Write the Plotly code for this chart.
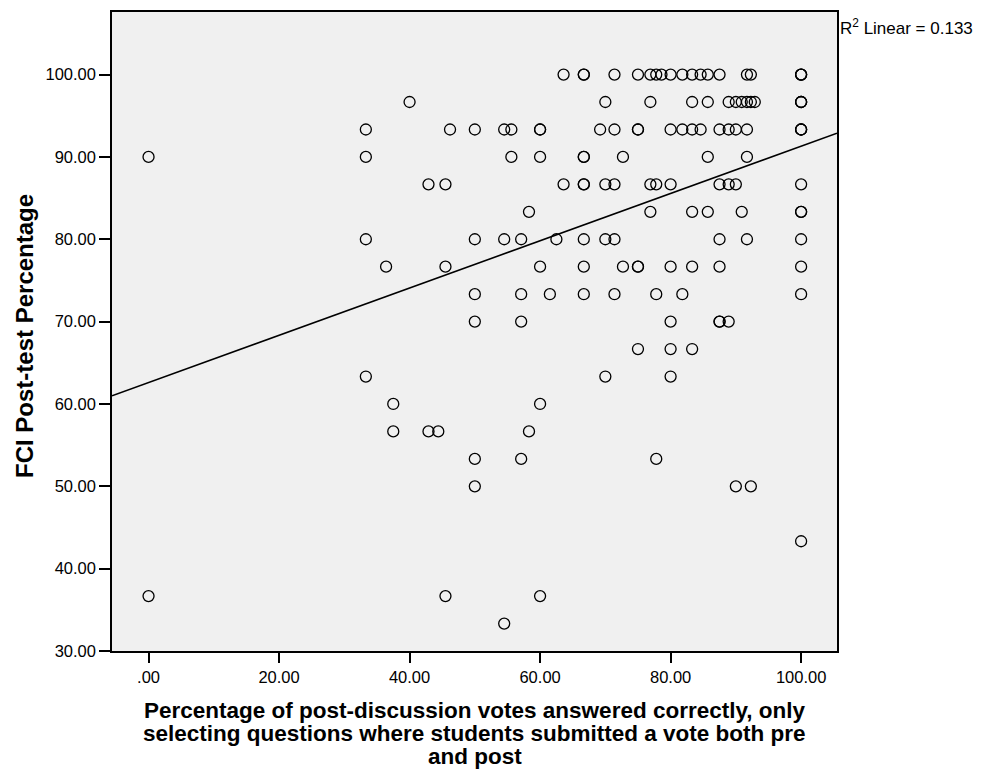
import numpy as np
import plotly.graph_objects as go

# ---- data (x: % post-discussion votes correct, y: FCI post-test %) ----
x_pct = [
    # y = 100
    63.6, 66.7, 66.7, 71.4, 75.0, 76.9, 77.8, 78.6, 80.0, 81.8, 83.3, 84.6, 85.7, 87.5, 91.7, 92.3, 100, 100, 100,
    # y = 96.67
    40.0, 70.0, 76.9, 83.3, 85.7, 88.9, 90.0, 90.9, 91.7, 92.3, 92.9, 100, 100, 100,
    # y = 93.33
    33.3, 46.2, 50.0, 54.5, 55.6, 60.0, 60.0, 69.2, 71.4, 75.0, 75.0, 80.0, 81.8, 83.3, 84.6, 87.5, 88.9, 90.0, 91.7, 100, 100, 100,
    # y = 90
    0.0, 33.3, 55.6, 60.0, 66.7, 66.7, 72.7, 85.7, 91.7,
    # y = 86.67
    42.9, 45.5, 63.6, 66.7, 66.7, 70.0, 71.4, 76.9, 77.8, 80.0, 87.5, 88.9, 90.0, 100,
    # y = 83.33
    58.3, 76.9, 83.3, 85.7, 90.9, 100, 100,
    # y = 80
    33.3, 50.0, 54.5, 57.1, 62.5, 66.7, 70.0, 71.4, 87.5, 91.7, 100,
    # y = 76.67
    36.4, 45.5, 60.0, 66.7, 72.7, 75.0, 75.0, 80.0, 83.3, 87.5, 100,
    # y = 73.33
    50.0, 57.1, 61.5, 66.7, 71.4, 77.8, 81.8, 100,
    # y = 70
    50.0, 57.1, 80.0, 87.5, 87.5, 88.9,
    # y = 66.67
    75.0, 80.0, 83.3,
    # y = 63.33
    33.3, 70.0, 80.0,
    # y = 60
    37.5, 60.0,
    # y = 56.67
    37.5, 42.9, 44.4, 58.3,
    # y = 53.33
    50.0, 57.1, 77.8,
    # y = 50
    50.0, 90.0, 92.3,
    # y = 43.33
    100,
    # y = 36.67
    0.0, 45.5, 60.0,
    # y = 33.33
    54.5,
]
y_levels = [100.0, 96.67, 93.33, 90.0, 86.67, 83.33, 80.0, 76.67, 73.33, 70.0,
            66.67, 63.33, 60.0, 56.67, 53.33, 50.0, 43.33, 36.67, 33.33]
y_counts = [19, 14, 22, 9, 14, 7, 11, 11, 8, 6, 3, 3, 2, 4, 3, 3, 1, 3, 1]
y_fci = [lvl for lvl, n in zip(y_levels, y_counts) for _ in range(n)]

# fit line (intercept, slope)
fit_intercept = 62.6
fit_slope = 0.287

x_ticks = [0, 20, 40, 60, 80, 100]
x_ticktext = [".00", "20.00", "40.00", "60.00", "80.00", "100.00"]
y_ticks = [30, 40, 50, 60, 70, 80, 90, 100]
y_ticktext = ["30.00", "40.00", "50.00", "60.00", "70.00", "80.00", "90.00", "100.00"]
x_range = [-5.6, 105.5]
y_range = [30, 107.6]
r2_label = "R<sup>2</sup> Linear = 0.133"
x_title_lines = [
    "Percentage of post-discussion votes answered correctly, only",
    "selecting questions where students submitted a vote both pre",
    "and post",
]
y_title = "FCI Post-test Percentage"

fit_x = np.array(x_range)
fit_y = fit_intercept + fit_slope * fit_x

FONT = "Arial, Liberation Sans, sans-serif"

fig = go.Figure()
fig.add_trace(go.Scatter(
    x=x_pct, y=y_fci, mode="markers",
    marker=dict(symbol="circle-open", size=11, color="black", line=dict(width=1.3, color="black")),
    showlegend=False, hoverinfo="x+y",
))
fig.add_trace(go.Scatter(
    x=fit_x, y=fit_y, mode="lines",
    line=dict(color="black", width=1.6),
    showlegend=False, hoverinfo="skip",
))

axis_common = dict(
    showgrid=False, zeroline=False, showline=True, linecolor="black", linewidth=1.5,
    mirror=True, ticks="outside", tickcolor="black", tickwidth=1.5,
    tickfont=dict(family=FONT, size=16.5, color="black"),
)

annotations = []
for i, line in enumerate(x_title_lines):
    annotations.append(dict(
        text=line, xref="paper", yref="paper", x=0.5, y=-0.0935 - i * 0.0355,
        xanchor="center", yanchor="middle", showarrow=False,
        font=dict(family=FONT, size=22.5, color="black", weight="bold")))
annotations.append(dict(
    text=y_title, textangle=-90, xref="paper", yref="paper", x=-0.12, y=0.493,
    xanchor="center", yanchor="middle", showarrow=False,
    font=dict(family=FONT, size=24, color="black", weight="bold")))
annotations.append(dict(
    text=r2_label, xref="paper", yref="paper", x=1.001, y=0.977,
    xanchor="left", yanchor="middle", showarrow=False,
    font=dict(family=FONT, size=17, color="black")))

fig.update_layout(
    width=981, height=769,
    margin=dict(l=112, r=144, t=10, b=118, pad=0),
    paper_bgcolor="white", plot_bgcolor="#F0F0F0",
    xaxis=dict(range=x_range, tickvals=x_ticks, ticktext=x_ticktext, ticklen=10, **axis_common),
    yaxis=dict(range=y_range, tickvals=y_ticks, ticktext=y_ticktext, ticklen=11, **axis_common),
    annotations=annotations,
)

fig.write_html("out.html")
